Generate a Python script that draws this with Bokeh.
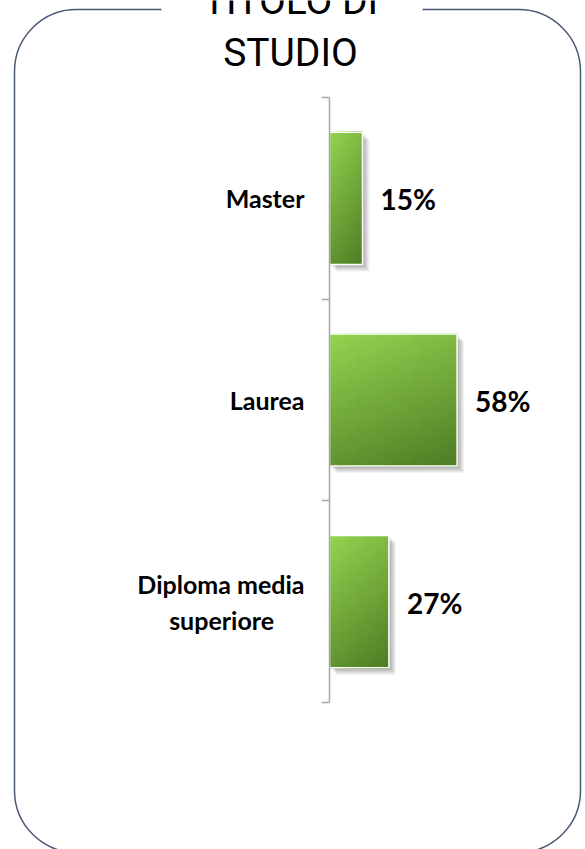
from bokeh.plotting import figure
from bokeh.models import Range1d, FixedTicker, BoxAnnotation, Label
from bokeh.core.properties import value
from bokeh.embed import file_html
from bokeh.resources import INLINE

# ---- data ----
categories = ["Master", "Laurea", "Diploma media\nsuperiore\u00a0\u00a0\u00a0\u00a0\u00a0"]
percent = [15, 58, 27]
value_labels = ["15%", "58%", "27%"]
title_lines = ["TITOLO DI", "STUDIO"]

W, H = 585, 849
n = len(categories)

# pixel layout of the plotting area (whole canvas is the frame)
AX_X, AX_TOP, AX_BOT = 329, 97, 702
PX_PER_PCT = 2.2
band_px = (AX_BOT - AX_TOP) / n

x_range = Range1d(-AX_X / PX_PER_PCT, (W - AX_X) / PX_PER_PCT)
y_range = Range1d((H - AX_TOP) / band_px, -AX_TOP / band_px)

p = figure(width=W, height=H, output_backend="svg", toolbar_location=None,
           x_range=x_range, y_range=y_range,
           x_axis_location=None, y_axis_location="left", min_border=0)
p.outline_line_color = None
p.xgrid.visible = False
p.ygrid.visible = False
p.background_fill_color = "white"
p.border_fill_color = "white"

centers = [i + 0.5 for i in range(n)]
bar_h = 0.655
dx_px = 1 / PX_PER_PCT
dy_px = 1 / band_px

# rounded frame and title (drawn first, behind)
border = BoxAnnotation(left=14, right=580, top=9, bottom=852,
                       left_units="canvas", right_units="canvas",
                       top_units="canvas", bottom_units="canvas",
                       fill_color=None, line_color="#4a5a74", line_alpha=1.0,
                       line_width=1.5, border_radius=62, level="underlay")
p.add_layout(border)
cover = BoxAnnotation(left=161, right=422, top=-10, bottom=22,
                      left_units="canvas", right_units="canvas",
                      top_units="canvas", bottom_units="canvas",
                      fill_color="white", fill_alpha=1.0, line_color=None,
                      level="underlay")
p.add_layout(cover)
for line, base in zip(title_lines, [0, 52]):
    p.add_layout(Label(x=290, y=base, x_units="canvas", y_units="canvas",
                       text=line, text_align="center", text_baseline="alphabetic",
                       text_font="Roboto", text_font_size="39px", text_color="black"))

# shadow (stacked translucent offsets)
for s in range(1, 8):
    p.hbar(y=[c + s * dy_px for c in centers], left=[s * dx_px] * n,
           right=[v + s * dx_px for v in percent], height=bar_h,
           fill_color="black", fill_alpha=0.05, line_color=None)

# gradient bars (diagonal shading built from overlapping slices)
NY, NX = 30, 14
top_col = (148, 212, 80)
bot_col = (78, 124, 36)
ys, lefts, rights, cols = [], [], [], []
for c, v in zip(centers, percent):
    for j in range(NX):
        tx = (j + 0.5) / NX
        for k in range(NY):
            ty = (k + 0.5) / NY
            t = 0.72 * ty + 0.28 * tx
            ys.append(c - bar_h / 2 + ty * bar_h)
            lefts.append(v * j / NX)
            rights.append(v)
            col = tuple(int(round(a + (b - a) * t)) for a, b in zip(top_col, bot_col))
            cols.append("#%02x%02x%02x" % col)
p.hbar(y=ys, left=lefts, right=rights, height=bar_h / NY * 1.25,
       fill_color=cols, line_color=None)
# white outline
p.hbar(y=centers, left=0, right=percent, height=bar_h,
       fill_color=None, line_color="white", line_width=1.5)

# value labels
p.text(x=percent, y=centers, text=value_labels, x_offset=18, y_offset=1,
       text_align="left", text_baseline="middle",
       text_font=value("Lato"), text_font_style="bold",
       text_font_size="28px", text_color="black")

# category axis, fixed at x = 0 inside the frame
ax = p.yaxis[0]
ax.fixed_location = 0
ax.bounds = (0, n)
ax.ticker = FixedTicker(ticks=centers, minor_ticks=list(range(n + 1)))
ax.major_label_overrides = {c: lab for c, lab in zip(centers, categories)}
ax.major_tick_line_color = None
ax.major_tick_out = 0
ax.major_tick_in = 0
ax.minor_tick_out = 8
ax.minor_tick_in = 0
ax.minor_tick_line_color = "#a6a6a6"
ax.minor_tick_line_width = 1.5
ax.axis_line_color = "#a6a6a6"
ax.axis_line_width = 1.5
ax.major_label_standoff = 17
ax.major_label_text_font = "Lato"
ax.major_label_text_font_style = "bold"
ax.major_label_text_font_size = "25px"
ax.major_label_text_color = "black"

open("out.html", "w").write(file_html(p, INLINE))
